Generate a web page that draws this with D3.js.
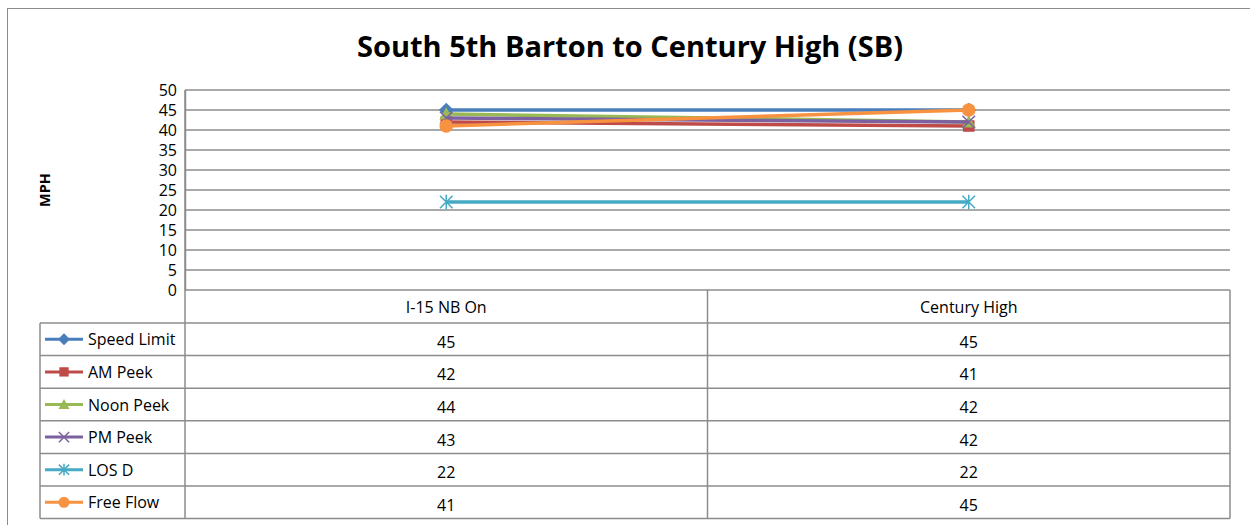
<!DOCTYPE html>
<html>
<head>
<meta charset="utf-8">
<script src="https://cdn.jsdelivr.net/npm/d3@7"></script>
<style>
  body { margin: 0; background: #fff; }
  text { font-family: "Open Sans", "Noto Sans", sans-serif; fill: #000; }
</style>
</head>
<body>
<svg id="chart" width="1250" height="525"></svg>
<script>
const categories = ['I-15 NB On', 'Century High'];
const seriesNames = ['Speed Limit', 'AM Peek', 'Noon Peek', 'PM Peek', 'LOS D', 'Free Flow'];
const speedLimit = [45, 45];
const amPeek = [42, 41];
const noonPeek = [44, 42];
const pmPeek = [43, 42];
const losD = [22, 22];
const freeFlow = [41, 45];
const yTicks = [0, 5, 10, 15, 20, 25, 30, 35, 40, 45, 50];
const title = 'South 5th Barton to Century High (SB)';

const seriesValues = [speedLimit, amPeek, noonPeek, pmPeek, losD, freeFlow];
const colors = ['#4A7EBB', '#BE4B48', '#98B954', '#7D60A0', '#46AAC5', '#F69240'];
const markers = ['diamond', 'square', 'triangle', 'x', 'star', 'circle'];

const svg = d3.select('#chart');
const plotLeft = 185, plotRight = 1230, plotTop = 90, plotBottom = 290;
const rowH = 32.6, headerH = 33, legendLeft = 40;
const grid = '#8c8c8c';

// outer frame
svg.append('rect')
    .attr('x', 7.5).attr('y', 8.5)
    .attr('width', 1260).attr('height', 530)
    .attr('fill', 'none').attr('stroke', '#8c8c8c').attr('stroke-width', 1);

svg.append('text')
    .attr('x', 630).attr('y', 57)
    .attr('text-anchor', 'middle')
    .style('font-size', '29px').style('font-weight', 'bold')
    .text(title);

const x = d3.scaleBand().domain(categories).range([plotLeft, plotRight]);
const y = d3.scaleLinear().domain([0, 50]).range([plotBottom, plotTop]);

// gridlines
svg.append('g').selectAll('line').data(yTicks).join('line')
    .attr('x1', plotLeft).attr('x2', plotRight)
    .attr('y1', d => y(d)).attr('y2', d => y(d))
    .attr('stroke', grid).attr('stroke-width', 1.5);

// y axis
const yAxis = svg.append('g')
    .attr('transform', `translate(${plotLeft},0)`)
    .call(d3.axisLeft(y).tickValues(yTicks).tickSize(0).tickPadding(8));
yAxis.select('.domain').attr('stroke', grid).attr('stroke-width', 1.5);
yAxis.selectAll('text').style('font-size', '16px').style('font-family', '"Open Sans", sans-serif').attr('fill', '#000');

svg.append('text')
    .attr('transform', 'translate(50,190) rotate(-90)')
    .attr('text-anchor', 'middle')
    .style('font-size', '14.5px').style('font-weight', 'bold')
    .text('MPH');

// data table
const tableBottom = plotBottom + headerH + rowH * seriesNames.length;
const tbl = svg.append('g').attr('stroke', grid).attr('stroke-width', 1.5).attr('fill', 'none');
tbl.append('line').attr('x1', plotLeft).attr('x2', plotLeft).attr('y1', plotTop).attr('y2', tableBottom);
tbl.append('line').attr('x1', plotRight).attr('x2', plotRight).attr('y1', plotBottom).attr('y2', tableBottom);
tbl.append('line').attr('x1', x(categories[1])).attr('x2', x(categories[1])).attr('y1', plotBottom).attr('y2', tableBottom);
tbl.append('line').attr('x1', legendLeft).attr('x2', legendLeft).attr('y1', plotBottom + headerH).attr('y2', tableBottom);
tbl.selectAll('.row').data(d3.range(seriesNames.length + 1)).join('line')
    .attr('x1', legendLeft).attr('x2', plotRight)
    .attr('y1', i => plotBottom + headerH + i * rowH)
    .attr('y2', i => plotBottom + headerH + i * rowH);

svg.append('g').selectAll('text').data(categories).join('text')
    .attr('x', d => x(d) + x.bandwidth() / 2)
    .attr('y', plotBottom + headerH / 2 + 6)
    .attr('text-anchor', 'middle')
    .style('font-size', '16px')
    .text(d => d);

function drawMarker(g, cx, cy, i, s) {
    const c = colors[i];
    const t = markers[i];
    if (t === 'diamond') {
        const r = 7 * s;
        g.append('path').attr('d', `M${cx},${cy - r}L${cx + r},${cy}L${cx},${cy + r}L${cx - r},${cy}Z`).attr('fill', c);
    } else if (t === 'square') {
        g.append('rect').attr('x', cx - 5.5 * s).attr('y', cy - 5.5 * s)
            .attr('width', 11 * s).attr('height', 11 * s).attr('fill', c);
    } else if (t === 'triangle') {
        const r = 6.5 * s;
        g.append('path').attr('d', `M${cx},${cy - r}L${cx + r},${cy + r * 0.8}L${cx - r},${cy + r * 0.8}Z`).attr('fill', c);
    } else if (t === 'x') {
        const r = 6 * s;
        g.append('path').attr('d', `M${cx - r},${cy - r}L${cx + r},${cy + r}M${cx - r},${cy + r}L${cx + r},${cy - r}`)
            .attr('stroke', c).attr('stroke-width', 1.5);
    } else if (t === 'star') {
        const r = 6 * s;
        g.append('path').attr('d', `M${cx - r},${cy - r}L${cx + r},${cy + r}M${cx - r},${cy + r}L${cx + r},${cy - r}M${cx},${cy - r * 1.15}L${cx},${cy + r * 1.15}`)
            .attr('stroke', c).attr('stroke-width', 1.5);
    } else {
        g.append('circle').attr('cx', cx).attr('cy', cy).attr('r', 6.5 * s).attr('fill', c);
    }
}

const rows = svg.append('g').selectAll('g').data(seriesNames).join('g')
    .attr('transform', (d, i) => `translate(0,${plotBottom + headerH + i * rowH + rowH / 2})`);
rows.each(function(name, i) {
    const g = d3.select(this);
    g.selectAll('text.v').data(seriesValues[i]).join('text')
        .attr('class', 'v')
        .attr('x', (v, j) => x(categories[j]) + x.bandwidth() / 2)
        .attr('y', 8.5)
        .attr('text-anchor', 'middle')
        .style('font-size', '16px')
        .text(v => v);
    g.append('line').attr('x1', 45).attr('x2', 83).attr('y1', 0).attr('y2', 0)
        .attr('stroke', colors[i]).attr('stroke-width', 3);
    drawMarker(g, 64, 0, i, 0.85);
    g.append('text').attr('x', 88).attr('y', 6)
        .style('font-size', '16px')
        .text(name);
});

// series lines and markers
const line = d3.line().x((v, j) => x(categories[j]) + x.bandwidth() / 2).y(v => y(v));
seriesValues.forEach((vals, i) => {
    const g = svg.append('g');
    g.append('path').attr('d', line(vals))
        .attr('fill', 'none').attr('stroke', colors[i]).attr('stroke-width', 3.5);
    vals.forEach((v, j) => drawMarker(g, x(categories[j]) + x.bandwidth() / 2, y(v), i, 1.05));
});
</script>
</body>
</html>
